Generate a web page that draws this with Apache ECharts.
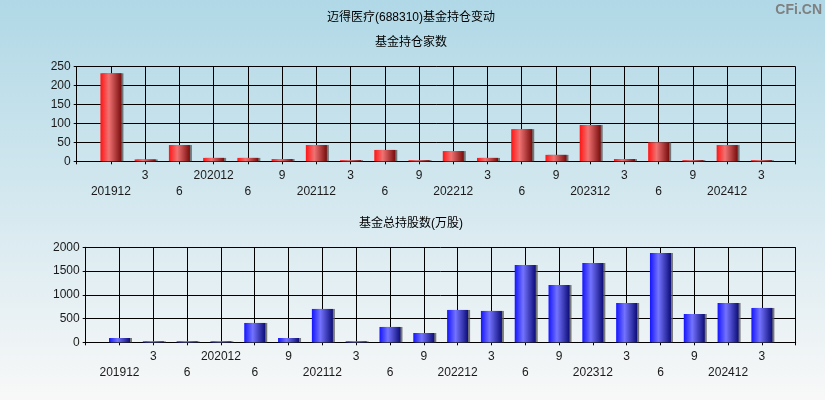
<!DOCTYPE html>
<html>
<head>
<meta charset="utf-8">
<script src="https://cdn.jsdelivr.net/npm/echarts@6/dist/echarts.min.js"></script>
<style>html,body{margin:0;padding:0;}#c{width:825px;height:400px;}</style>
</head>
<body>
<div id="c"></div>
<script>
const categories = ['201912','202003','202006','202012','202106','202109','202112','202203','202206','202209','202212','202303','202306','202309','202312','202403','202406','202409','202412','202503'];
const tickLabels = ['201912','3','6','202012','6','9','202112','3','6','9','202212','3','6','9','202312','3','6','9','202412','3'];
const fundCount = [233,5,43,9,9,6,43,3,30,3,27,9,85,17,96,6,50,3,43,3];
const fundShares = [90,20,20,20,407,91,702,20,323,196,681,660,1628,1207,1670,828,1881,596,828,723];

const chart = echarts.init(document.getElementById('c'), null, {renderer:'canvas'});
const fontFam = 'Arial, "Liberation Sans", "Noto Sans CJK SC", sans-serif';

const padCats = [''].concat(categories, ['']);
const padLabels = [''].concat(tickLabels, ['']);

function xAxis(gi){
  return {
    type:'category', gridIndex:gi, data:padCats, boundaryGap:false,
    axisLine:{show:true, lineStyle:{color:'#000', width:1}},
    axisTick:{show:true, length:3, interval:0, lineStyle:{color:'#000'}},
    splitLine:{show:true, interval:0, lineStyle:{color:'#000', width:1}},
    axisLabel:{
      interval:0, margin:6, fontSize:12, lineHeight:16, color:'#1a1a1a', fontFamily:fontFam,
      formatter:function(v, idx){
        const lab = padLabels[idx];
        if(!lab) return '';
        return ((idx-1)%2===0) ? '\n'+lab : lab;
      }
    }
  };
}
function yAxis(gi, max, interval){
  return {
    type:'value', gridIndex:gi, min:0, max:max, interval:interval,
    axisLine:{show:true, lineStyle:{color:'#000'}},
    axisTick:{show:true, length:3, lineStyle:{color:'#000'}},
    splitLine:{show:true, lineStyle:{color:'#000', width:1}},
    axisLabel:{margin:6, fontSize:12, color:'#1a1a1a', fontFamily:fontFam, formatter:function(v){return String(v);}}
  };
}
function grad(c0,c1,c2){
  return new echarts.graphic.LinearGradient(0,0,1,0,[
    {offset:0,color:c0},{offset:0.4,color:c1},{offset:1,color:c2}
  ]);
}
const redGrad = grad('#ff1414','#f07272','#780c0c');
const blueGrad = grad('#1414ff','#7373ff','#0c0c78');

chart.setOption({
  backgroundColor: new echarts.graphic.LinearGradient(0,0,0,1,[
    {offset:0,color:'#b0d8e6'},{offset:1,color:'#f8f8f8'}
  ]),
  animation:false,
  graphic:[
    {type:'text', x:411, y:18, style:{text:'迈得医疗(688310)基金持仓变动', fontSize:12, fill:'#000', textAlign:'center', textVerticalAlign:'middle', fontFamily:fontFam}},
    {type:'text', x:411, y:43, style:{text:'基金持仓家数', fontSize:12, fill:'#000', textAlign:'center', textVerticalAlign:'middle', fontFamily:fontFam}},
    {type:'text', x:411, y:224, style:{text:'基金总持股数(万股)', fontSize:12, fill:'#000', textAlign:'center', textVerticalAlign:'middle', fontFamily:fontFam}},
    {type:'text', x:822, y:10, style:{text:'CFi.CN', fontSize:14, fontWeight:'bold', fill:'#808080', textAlign:'right', textVerticalAlign:'middle', fontFamily:fontFam}}
  ],
  grid:[
    {left:76.7, right:29.4, top:66.7, height:94.6},
    {left:85.7, right:29.3, top:247.3, height:95}
  ],
  xAxis:[xAxis(0), xAxis(1)],
  yAxis:[yAxis(0,250,50), yAxis(1,2000,500)],
  series:[
    {type:'bar', xAxisIndex:0, yAxisIndex:0, barWidth:21,
     data:[null].concat(fundCount,[null]),
     itemStyle:{color:redGrad, shadowColor:'rgba(90,90,90,0.8)', shadowOffsetX:2, shadowBlur:0}},
    {type:'bar', xAxisIndex:1, yAxisIndex:1, barWidth:21,
     data:[null].concat(fundShares,[null]),
     itemStyle:{color:blueGrad, shadowColor:'rgba(90,90,90,0.8)', shadowOffsetX:2, shadowBlur:0}}
  ]
});
</script>
</body>
</html>
